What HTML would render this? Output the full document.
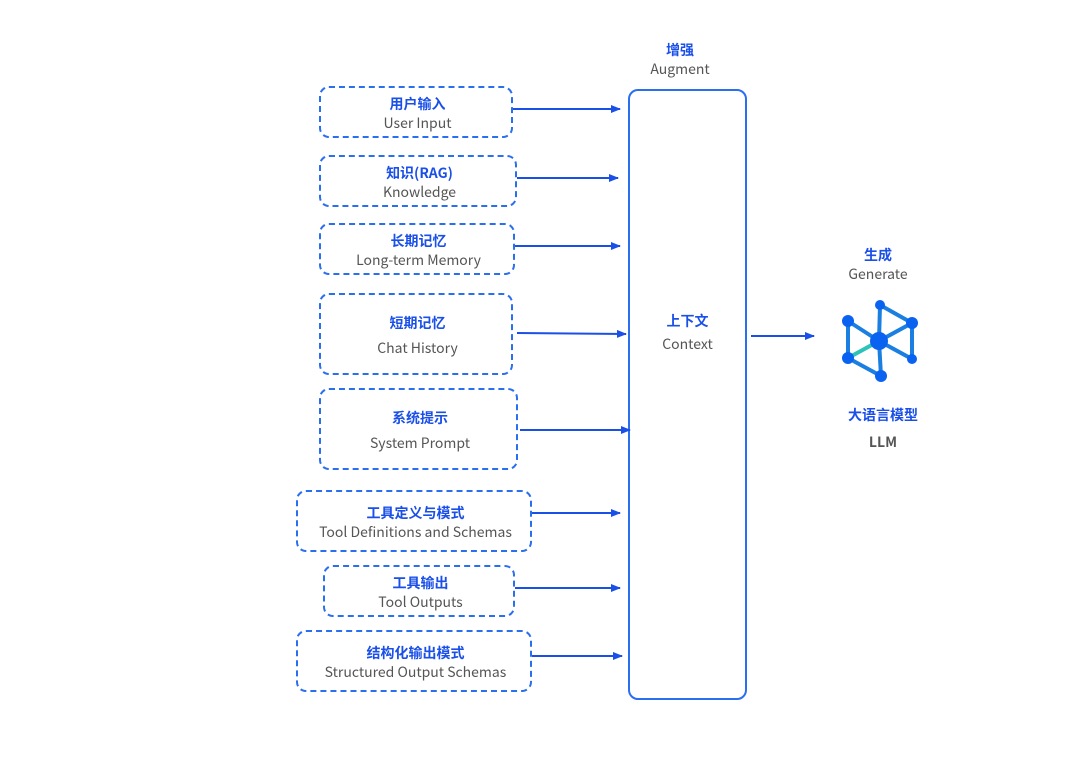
<!DOCTYPE html><html><head><meta charset="utf-8"><style>
body{margin:0;width:1080px;height:764px;background:#fff;position:relative;font-family:"Noto Sans CJK SC","Liberation Sans",sans-serif;overflow:hidden}
.b{position:absolute;border:2px dashed #2a6ff0;border-radius:10px;box-sizing:border-box;text-align:center;display:flex;flex-direction:column;justify-content:center;padding-top:4px;padding-left:3px}
.z{color:#1a4fe8;font-size:14px;font-weight:bold;line-height:19px}
.e{color:#555;font-size:14px;line-height:19px}
.t{position:absolute;text-align:center}
</style></head><body>
<div class="b" style="left:319px;top:86px;width:194px;height:52px"><div class="z">用户输入</div><div class="e">User Input</div></div>
<div class="b" style="left:319px;top:155px;width:198px;height:52px"><div class="z">知识(RAG)</div><div class="e">Knowledge</div></div>
<div class="b" style="left:319px;top:223px;width:196px;height:52px"><div class="z">长期记忆</div><div class="e">Long-term Memory</div></div>
<div class="b" style="left:319px;top:293px;width:194px;height:82px"><div class="z" style="margin-bottom:6px">短期记忆</div><div class="e">Chat History</div></div>
<div class="b" style="left:319px;top:388px;width:199px;height:82px"><div class="z" style="margin-bottom:6px">系统提示</div><div class="e">System Prompt</div></div>
<div class="b" style="left:296px;top:490px;width:236px;height:62px"><div class="z">工具定义与模式</div><div class="e">Tool Definitions and Schemas</div></div>
<div class="b" style="left:323px;top:565px;width:192px;height:52px"><div class="z">工具输出</div><div class="e">Tool Outputs</div></div>
<div class="b" style="left:296px;top:630px;width:236px;height:62px"><div class="z">结构化输出模式</div><div class="e">Structured Output Schemas</div></div>
<div style="position:absolute;left:628px;top:89px;width:119px;height:611px;border:2px solid #2a6ff0;border-radius:10px;box-sizing:border-box"></div>
<div class="t" style="left:628px;top:41px;width:104px"><div class="z">增强</div><div class="e">Augment</div></div>
<div class="t" style="left:630px;top:312px;width:115px"><div class="z">上下文</div><div class="e" style="margin-top:4px">Context</div></div>
<div class="t" style="left:828px;top:246px;width:100px"><div class="z">生成</div><div class="e">Generate</div></div>
<div class="t" style="left:828px;top:406px;width:110px"><div class="z">大语言模型</div><div class="e" style="margin-top:8px;font-weight:bold;color:#555">LLM</div></div>
<svg width="1080" height="764" style="position:absolute;left:0;top:0">
<defs><marker id="a" markerWidth="10" markerHeight="8" refX="9" refY="4" orient="auto" markerUnits="userSpaceOnUse"><path d="M0,0L10,4L0,8z" fill="#1a4fe8"/></marker></defs>
<g stroke="#1a4fe8" stroke-width="2" marker-end="url(#a)">
<line x1="513" y1="109" x2="620" y2="109"/>
<line x1="517" y1="178" x2="618" y2="178"/>
<line x1="515" y1="246" x2="620" y2="246"/>
<line x1="517" y1="333" x2="626" y2="334"/>
<line x1="520" y1="430" x2="630" y2="430"/>
<line x1="532" y1="513" x2="620" y2="513"/>
<line x1="515" y1="588" x2="620" y2="588"/>
<line x1="532" y1="656" x2="622" y2="656"/>
<line x1="751" y1="336" x2="814" y2="336"/>
</g>
<g stroke="#1a7fe0" stroke-width="4">
<line x1="880" y1="305" x2="879" y2="341"/><line x1="880" y1="305" x2="912" y2="323"/>
<line x1="848" y1="321" x2="879" y2="341"/><line x1="848" y1="321" x2="848" y2="358"/>
<line x1="912" y1="323" x2="879" y2="341"/><line x1="912" y1="323" x2="912" y2="359"/>
<line x1="879" y1="341" x2="912" y2="359"/><line x1="848" y1="358" x2="881" y2="376"/>
<line x1="879" y1="341" x2="881" y2="376"/>
<line x1="879" y1="341" x2="848" y2="358" stroke="#2cc4b8"/>
</g>
<g fill="#0a62f0">
<circle cx="880" cy="305" r="5"/><circle cx="848" cy="321" r="6"/><circle cx="912" cy="323" r="6"/>
<circle cx="879" cy="341" r="9"/><circle cx="848" cy="358" r="6"/><circle cx="912" cy="359" r="5"/><circle cx="881" cy="376" r="6"/>
</g>
</svg>
</body></html>
